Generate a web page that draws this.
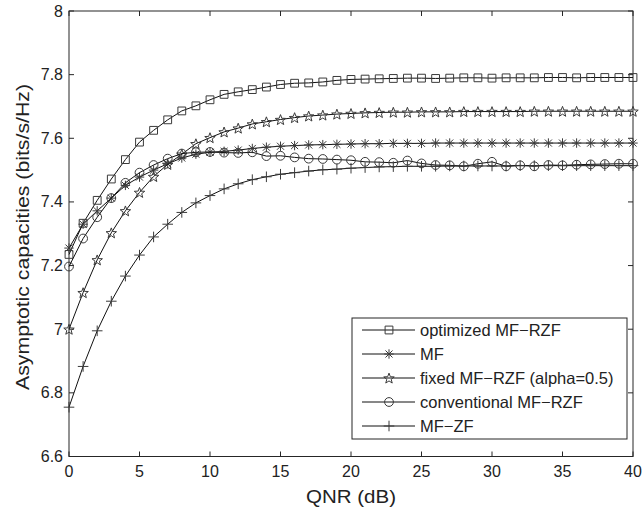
<!DOCTYPE html>
<html>
<head>
<meta charset="utf-8">
<script src="https://cdn.jsdelivr.net/npm/d3@7"></script>
<style>
  html, body { margin: 0; padding: 0; background: #fff; }
  svg { display: block; }
</style>
</head>
<body>
<div id="chart"></div>
<script>
// QNR values (dB), one marker per dB
const qnr = d3.range(0, 41);

const optimizedMfRzf = [
  7.235, 7.333, 7.405, 7.472, 7.533, 7.588, 7.625, 7.658, 7.686, 7.702,
  7.721, 7.738, 7.746, 7.753, 7.761, 7.769, 7.773, 7.774, 7.777, 7.782,
  7.785, 7.786, 7.787, 7.788, 7.789, 7.789, 7.788, 7.789, 7.790, 7.790,
  7.789, 7.790, 7.790, 7.790, 7.791, 7.791, 7.790, 7.791, 7.791, 7.791,
  7.791
];
const mf = [
  7.255, 7.330, 7.372, 7.412, 7.452, 7.478, 7.500, 7.520, 7.538, 7.550,
  7.556, 7.559, 7.563, 7.568, 7.572, 7.575, 7.577, 7.579, 7.580, 7.581,
  7.582, 7.583, 7.583, 7.584, 7.584, 7.584, 7.585, 7.585, 7.585, 7.585,
  7.585, 7.585, 7.585, 7.585, 7.585, 7.585, 7.585, 7.585, 7.585, 7.585,
  7.585
];
const fixedMfRzf = [
  7.000, 7.115, 7.218, 7.303, 7.372, 7.430, 7.480, 7.518, 7.550, 7.583,
  7.602, 7.620, 7.632, 7.645, 7.652, 7.659, 7.665, 7.670, 7.673, 7.676,
  7.678, 7.680, 7.681, 7.682, 7.682, 7.683, 7.683, 7.683, 7.684, 7.684,
  7.684, 7.684, 7.684, 7.685, 7.685, 7.685, 7.685, 7.685, 7.685, 7.685,
  7.685
];
const conventionalMfRzf = [
  7.197, 7.285, 7.352, 7.412, 7.460, 7.492, 7.516, 7.536, 7.552, 7.556,
  7.557, 7.555, 7.554, 7.556, 7.544, 7.545, 7.540, 7.536, 7.535, 7.533,
  7.531, 7.526, 7.525, 7.523, 7.530, 7.521, 7.516, 7.515, 7.512, 7.520,
  7.526, 7.512, 7.515, 7.512, 7.516, 7.515, 7.517, 7.518, 7.519, 7.520,
  7.520
];
const mfZf = [
  6.755, 6.883, 6.995, 7.088, 7.167, 7.233, 7.290, 7.330, 7.367, 7.397,
  7.420, 7.441, 7.457, 7.470, 7.479, 7.487, 7.492, 7.497, 7.501, 7.503,
  7.506, 7.508, 7.510, 7.511, 7.512, 7.512, 7.512, 7.513, 7.513, 7.513,
  7.513, 7.513, 7.514, 7.514, 7.514, 7.514, 7.514, 7.514, 7.514, 7.514,
  7.514
];

const seriesNames = [
  "optimized MF\u2212RZF",
  "MF",
  "fixed MF\u2212RZF (alpha=0.5)",
  "conventional MF\u2212RZF",
  "MF\u2212ZF"
];
const seriesMarkers = ["square", "asterisk", "star", "circle", "plus"];
const seriesValues = [optimizedMfRzf, mf, fixedMfRzf, conventionalMfRzf, mfZf];

const xTicks = [0, 5, 10, 15, 20, 25, 30, 35, 40];
const yTicks = [6.6, 6.8, 7, 7.2, 7.4, 7.6, 7.8, 8];

function main(container) {
  const width = 644;
  const height = 508;
  const margin = { top: 11, right: 11, bottom: 51.5, left: 69 };
  const font = "'Liberation Sans', Arial, Helvetica, sans-serif";

  const svg = d3
    .select(container)
    .append("svg")
    .attr("width", width)
    .attr("height", height);

  const x = d3
    .scaleLinear()
    .domain([0, 40])
    .range([margin.left, width - margin.right]);
  const y = d3
    .scaleLinear()
    .domain([6.6, 8])
    .range([height - margin.bottom, margin.top]);

  const x0 = x.range()[0], x1 = x.range()[1];
  const y0 = y.range()[0], y1 = y.range()[1];

  // marker path generators (MATLAB-style, unfilled)
  function markerPath(kind) {
    const p = d3.path();
    if (kind === "square") {
      const h = 3.9;
      p.rect(-h, -h, 2 * h, 2 * h);
    } else if (kind === "circle") {
      p.arc(0, 0, 4.4, 0, 2 * Math.PI);
      p.closePath();
    } else if (kind === "plus") {
      const r = 5.3;
      p.moveTo(-r, 0); p.lineTo(r, 0);
      p.moveTo(0, -r); p.lineTo(0, r);
    } else if (kind === "asterisk") {
      const r = 4.7, d = r * 0.75;
      p.moveTo(0, -r); p.lineTo(0, r);
      p.moveTo(-d, -d); p.lineTo(d, d);
      p.moveTo(-d, d); p.lineTo(d, -d);
      p.moveTo(-r, 0); p.lineTo(r, 0);
    } else if (kind === "star") {
      const ro = 5.5, ri = ro * 0.42;
      for (let i = 0; i < 10; i++) {
        const r = i % 2 === 0 ? ro : ri;
        const a = -Math.PI / 2 + (i * Math.PI) / 5;
        const px = r * Math.cos(a), py = r * Math.sin(a) + 0.6;
        if (i === 0) p.moveTo(px, py);
        else p.lineTo(px, py);
      }
      p.closePath();
    }
    return p.toString();
  }

  // axes box
  const axisG = svg.append("g");
  axisG
    .append("rect")
    .attr("x", x0)
    .attr("y", y1)
    .attr("width", x1 - x0)
    .attr("height", y0 - y1)
    .attr("fill", "none")
    .attr("stroke", "#262626")
    .attr("stroke-width", 1);

  const tickLen = 5;
  // x ticks (bottom and top, inward)
  xTicks.forEach((t) => {
    axisG.append("line")
      .attr("x1", x(t)).attr("x2", x(t))
      .attr("y1", y0).attr("y2", y0 - tickLen)
      .attr("stroke", "#262626");
    axisG.append("line")
      .attr("x1", x(t)).attr("x2", x(t))
      .attr("y1", y1).attr("y2", y1 + tickLen)
      .attr("stroke", "#262626");
    axisG.append("text")
      .attr("x", x(t))
      .attr("y", y0 + 20)
      .attr("text-anchor", "middle")
      .attr("font-family", font)
      .attr("font-size", "16px")
      .attr("fill", "#222")
      .text(t);
  });
  // y ticks (left and right, inward)
  yTicks.forEach((t) => {
    axisG.append("line")
      .attr("x1", x0).attr("x2", x0 + tickLen)
      .attr("y1", y(t)).attr("y2", y(t))
      .attr("stroke", "#262626");
    axisG.append("line")
      .attr("x1", x1).attr("x2", x1 - tickLen)
      .attr("y1", y(t)).attr("y2", y(t))
      .attr("stroke", "#262626");
    axisG.append("text")
      .attr("x", x0 - 6)
      .attr("y", y(t) + 5.5)
      .attr("text-anchor", "end")
      .attr("font-family", font)
      .attr("font-size", "16px")
      .attr("fill", "#222")
      .text(d3.format("~g")(t));
  });

  // axis labels
  svg.append("text")
    .attr("x", (x0 + x1) / 2)
    .attr("y", 503)
    .attr("text-anchor", "middle")
    .attr("font-family", font)
    .attr("font-size", "19px")
    .attr("textLength", 90)
    .attr("lengthAdjust", "spacingAndGlyphs")
    .attr("fill", "#222")
    .text("QNR (dB)");
  svg.append("text")
    .attr("transform", `translate(29, 237) rotate(-90)`)
    .attr("text-anchor", "middle")
    .attr("font-family", font)
    .attr("font-size", "19px")
    .attr("textLength", 306)
    .attr("lengthAdjust", "spacingAndGlyphs")
    .attr("fill", "#222")
    .text("Asymptotic capacities (bits/s/Hz)");

  // series
  const line = d3
    .line()
    .x((d) => x(d[0]))
    .y((d) => y(d[1]));

  seriesValues.forEach((vals, i) => {
    const pts = qnr.map((q, j) => [q, vals[j]]);
    const g = svg.append("g").attr("class", "series");
    g.append("path")
      .datum(pts)
      .attr("d", line)
      .attr("fill", "none")
      .attr("stroke", "#111")
      .attr("stroke-width", 1);
    g.selectAll("path.marker")
      .data(pts)
      .enter()
      .append("path")
      .attr("class", "marker")
      .attr("transform", (d) => `translate(${x(d[0])},${y(d[1])})`)
      .attr("d", markerPath(seriesMarkers[i]))
      .attr("fill", "none")
      .attr("stroke", "#3a3a3a")
      .attr("stroke-width", 1);
  });

  // legend
  const lg = svg.append("g").attr("class", "legend");
  const lx = 352, ly = 318, lw = 275, lh = 121;
  lg.append("rect")
    .attr("x", lx)
    .attr("y", ly)
    .attr("width", lw)
    .attr("height", lh)
    .attr("fill", "#fff")
    .attr("stroke", "#262626")
    .attr("stroke-width", 1);
  seriesNames.forEach((name, i) => {
    const cy = ly + 12 + i * 24;
    lg.append("line")
      .attr("x1", lx + 10).attr("x2", lx + 63)
      .attr("y1", cy).attr("y2", cy)
      .attr("stroke", "#111");
    lg.append("path")
      .attr("transform", `translate(${lx + 37},${cy})`)
      .attr("d", markerPath(seriesMarkers[i]))
      .attr("fill", "none")
      .attr("stroke", "#3a3a3a");
    lg.append("text")
      .attr("x", lx + 68)
      .attr("y", cy + 5.5)
      .attr("font-family", font)
      .attr("font-size", "16.5px")
      .attr("fill", "#222")
      .text(name);
  });
}

main(document.getElementById("chart"));
</script>
</body>
</html>
